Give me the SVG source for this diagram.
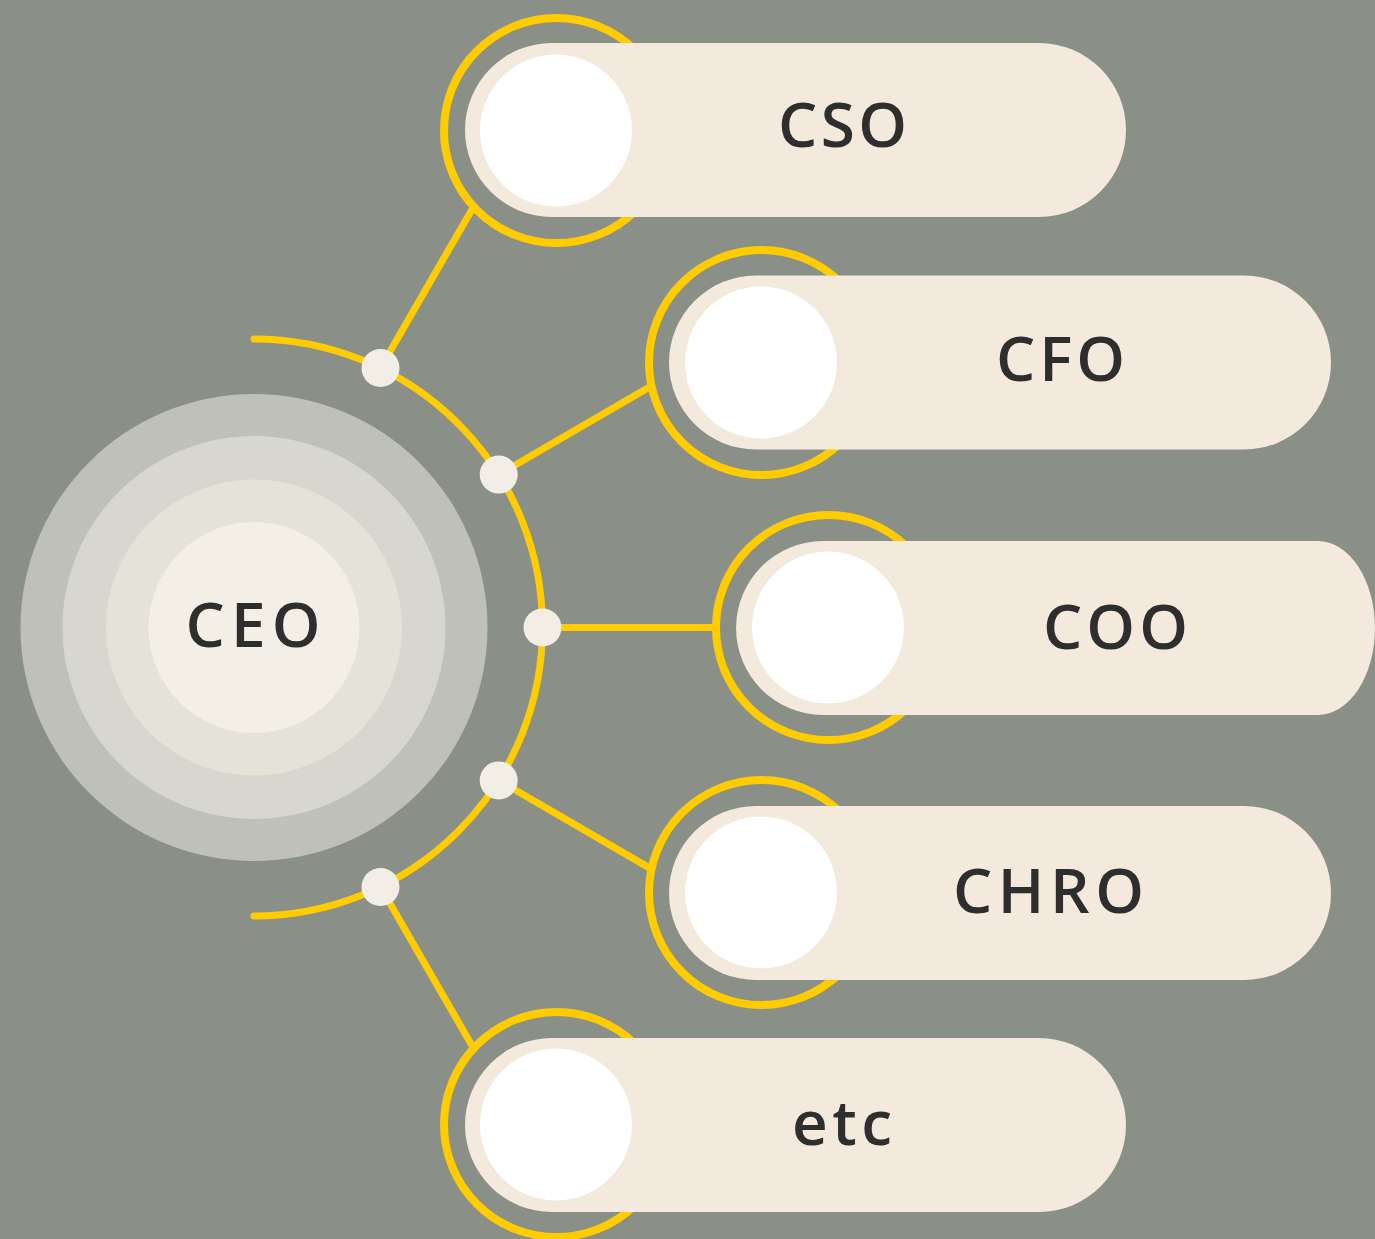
<svg xmlns="http://www.w3.org/2000/svg" width="1375" height="1239" viewBox="0 0 1375 1239">
<style>
.ring{fill:none;stroke:#ffcc00;stroke-width:8}
.pill{fill:#f3eadd}
.hole{fill:#ffffff}
.conn{stroke:#ffcc00;stroke-width:7;fill:none;stroke-linecap:round}
.dot{fill:#f3eee5}
.lbl{font-family:"Open Sans","Liberation Sans",sans-serif;font-weight:600;font-size:62px;fill:#2e2e2e;text-anchor:middle}
</style>
<rect width="1375" height="1239" fill="#8a9088"/>
<g id="ceo">
<circle cx="254" cy="627.5" r="233.5" fill="#bfc0b8"/>
<circle cx="254" cy="627.5" r="191.5" fill="#d8d7cf"/>
<circle cx="254" cy="627.5" r="148" fill="#e5e2d8"/>
<circle cx="254" cy="627.5" r="105.5" fill="#f3efe6"/>
<text class="lbl" x="253" y="647" textLength="135" lengthAdjust="spacing">CEO</text>
</g>
<g id="connectors">
<path class="conn" d="M254,339 A288.5,288.5 0 0 1 254,916"/>
<line class="conn" x1="380.5" y1="368" x2="473.4" y2="206.9"/>
<line class="conn" x1="498.7" y1="474.6" x2="651.5" y2="385.9"/>
<line class="conn" x1="542.5" y1="627.5" x2="716" y2="627.5"/>
<line class="conn" x1="498.7" y1="780.4" x2="651.5" y2="869.1"/>
<line class="conn" x1="380.5" y1="887" x2="473.4" y2="1048.1"/>
<circle class="dot" cx="380.5" cy="368" r="19"/>
<circle class="dot" cx="498.7" cy="474.6" r="19"/>
<circle class="dot" cx="542.5" cy="627.5" r="19"/>
<circle class="dot" cx="498.7" cy="780.4" r="19"/>
<circle class="dot" cx="380.5" cy="887" r="19"/>
</g>
<g id="cso">
<circle class="ring" cx="556.5" cy="130.5" r="112.5"/>
<rect class="pill" x="465" y="43" width="661" height="174" rx="87"/>
<circle class="hole" cx="556" cy="130.5" r="76"/>
<text class="lbl" x="842.5" y="147" textLength="129" lengthAdjust="spacing">CSO</text>
</g>
<g id="cfo">
<circle class="ring" cx="761.5" cy="362.5" r="112.5"/>
<rect class="pill" x="669" y="275.5" width="662" height="174" rx="87"/>
<circle class="hole" cx="761" cy="362.5" r="76"/>
<text class="lbl" x="1060.5" y="381" textLength="129" lengthAdjust="spacing">CFO</text>
</g>
<g id="coo">
<circle class="ring" cx="828.5" cy="627.5" r="112.5"/>
<path class="pill" d="M823,541 H1318 A57,87 0 0 1 1318,715 H823 A87,87 0 0 1 823,541 Z"/>
<circle class="hole" cx="828" cy="627.5" r="76"/>
<text class="lbl" x="1115.5" y="649" textLength="145" lengthAdjust="spacing">COO</text>
</g>
<g id="chro">
<circle class="ring" cx="761.5" cy="892.5" r="112.5"/>
<rect class="pill" x="669" y="806" width="662" height="174" rx="87"/>
<circle class="hole" cx="761" cy="892.5" r="76"/>
<text class="lbl" x="1048.5" y="913" textLength="191" lengthAdjust="spacing">CHRO</text>
</g>
<g id="etc">
<circle class="ring" cx="556.5" cy="1124.5" r="112.5"/>
<rect class="pill" x="465" y="1038" width="661" height="174" rx="87"/>
<circle class="hole" cx="556" cy="1124.5" r="76"/>
<text class="lbl" x="842" y="1145" textLength="100" lengthAdjust="spacing">etc</text>
</g>
</svg>
